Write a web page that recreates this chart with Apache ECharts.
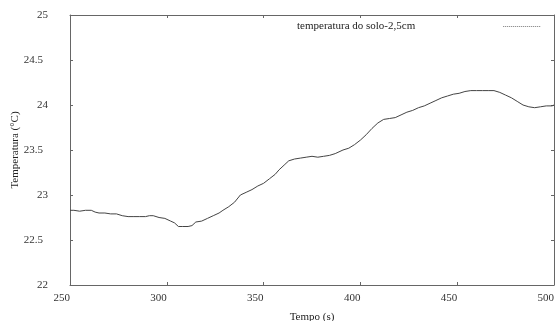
<!DOCTYPE html>
<html>
<head>
<meta charset="utf-8">
<script src="https://cdn.jsdelivr.net/npm/echarts@6/dist/echarts.min.js"></script>
<style>
  html, body { margin: 0; padding: 0; background: #fff; }
  #chart { width: 555px; height: 321px; }
</style>
</head>
<body>
<div id="chart"></div>
<script>
// tempo (s)
const times = [
  250, 252, 255, 258, 261, 263, 265, 268, 271, 274, 277, 280, 283, 286, 289,
  291, 293, 296, 299, 302, 304, 306, 308, 311, 313, 315, 318, 321, 324, 327,
  329, 332, 335, 338, 341, 344, 347, 350, 353, 356, 358, 361, 363, 366, 369,
  372, 375, 378, 381, 384, 387, 391, 394, 397, 400, 403, 406, 409, 412, 415,
  418, 421, 424, 427, 430, 433, 436, 439, 442, 445, 448, 451, 454, 457, 460,
  463, 466, 469, 472, 475, 478, 481, 484, 487, 490, 493, 496, 499, 500
];
// temperatura do solo-2,5cm (°C)
const temps = [
  22.83, 22.83, 22.82, 22.83, 22.83, 22.81, 22.80, 22.80, 22.79, 22.79, 22.77, 22.76, 22.76, 22.76, 22.76,
  22.77, 22.77, 22.75, 22.74, 22.71, 22.69, 22.65, 22.65, 22.65, 22.66, 22.70, 22.71, 22.74, 22.77, 22.80,
  22.83, 22.87, 22.92, 23.00, 23.03, 23.06, 23.10, 23.13, 23.18, 23.23, 23.28, 23.34, 23.38, 23.40, 23.41,
  23.42, 23.43, 23.42, 23.43, 23.44, 23.46, 23.50, 23.52, 23.56, 23.61, 23.67, 23.74, 23.80, 23.84, 23.85,
  23.86, 23.89, 23.92, 23.94, 23.97, 23.99, 24.02, 24.05, 24.08, 24.10, 24.12, 24.13, 24.15, 24.16, 24.16,
  24.16, 24.16, 24.16, 24.14, 24.11, 24.08, 24.04, 24.00, 23.98, 23.97, 23.98, 23.99, 23.99, 24.00
];
const seriesName = 'temperatura do solo-2,5cm';
const xTicks = [250, 300, 350, 400, 450, 500];
const yTicks = [22, 22.5, 23, 23.5, 24, 24.5, 25];

const font = '"Liberation Serif", "DejaVu Serif", serif';
const axisColor = '#666';

const chart = echarts.init(document.getElementById('chart'));

const frameAxis = {
  axisLine: { show: true, lineStyle: { color: axisColor, width: 1 } },
  axisTick: { show: true, inside: true, length: 3, lineStyle: { color: axisColor } },
  splitLine: { show: false },
};

chart.setOption({
  animation: false,
  backgroundColor: '#fff',
  grid: { left: 70, right: 1, top: 15, bottom: 36, containLabel: false, outerBoundsMode: 'none' },
  legend: {
    data: [seriesName],
    left: 292,
    top: 16,
    align: 'right',
    itemWidth: 38,
    itemHeight: 8,
    formatter: (name) => '{t|' + name + '}',
    textStyle: {
      fontFamily: font, fontSize: 11, color: '#222',
      rich: { t: { fontFamily: font, fontSize: 11, color: '#222', padding: [0, 83, 0, 0] } },
    },
    itemStyle: { opacity: 0 },
    lineStyle: { type: 'dotted', width: 1, color: '#777' },
  },
  xAxis: [
    {
      ...frameAxis,
      type: 'value',
      min: xTicks[0],
      max: xTicks[xTicks.length - 1],
      interval: 50,
      name: 'Tempo (s)',
      nameLocation: 'middle',
      nameGap: 27,
      nameMoveOverlap: false,
      nameTextStyle: { fontFamily: font, fontSize: 11, color: '#222' },
      axisLabel: { fontFamily: font, fontSize: 11, color: '#333', align: 'right', margin: 8 },
    },
    {
      ...frameAxis,
      type: 'value',
      position: 'top',
      min: xTicks[0],
      max: xTicks[xTicks.length - 1],
      interval: 50,
      axisLabel: { show: false },
    },
  ],
  yAxis: [
    {
      ...frameAxis,
      type: 'value',
      min: yTicks[0],
      max: yTicks[yTicks.length - 1],
      interval: 0.5,
      name: 'Temperatura (°C)',
      nameLocation: 'middle',
      nameGap: 49,
      nameMoveOverlap: false,
      nameTextStyle: { fontFamily: font, fontSize: 11, color: '#222' },
      axisLabel: {
        margin: 22,
        color: '#333',
        fontFamily: font,
        fontSize: 11,
        formatter: (v) => Number.isInteger(v) ? '{i|' + v + '}' : '{d|' + v + '}',
        rich: {
          i: { fontFamily: font, fontSize: 11, color: '#333' },
          d: { fontFamily: font, fontSize: 11, color: '#333', padding: [0, 5, 0, 0] },
        },
      },
    },
    {
      ...frameAxis,
      type: 'value',
      position: 'right',
      min: yTicks[0],
      max: yTicks[yTicks.length - 1],
      interval: 0.5,
      axisLabel: { show: false },
    },
  ],
  series: [
    {
      name: seriesName,
      type: 'line',
      symbol: 'none',
      data: times.map((t, i) => [t, temps[i]]),
      lineStyle: { color: '#444', width: 1 },
      itemStyle: { color: '#444' },
    },
  ],
});
</script>
</body>
</html>
